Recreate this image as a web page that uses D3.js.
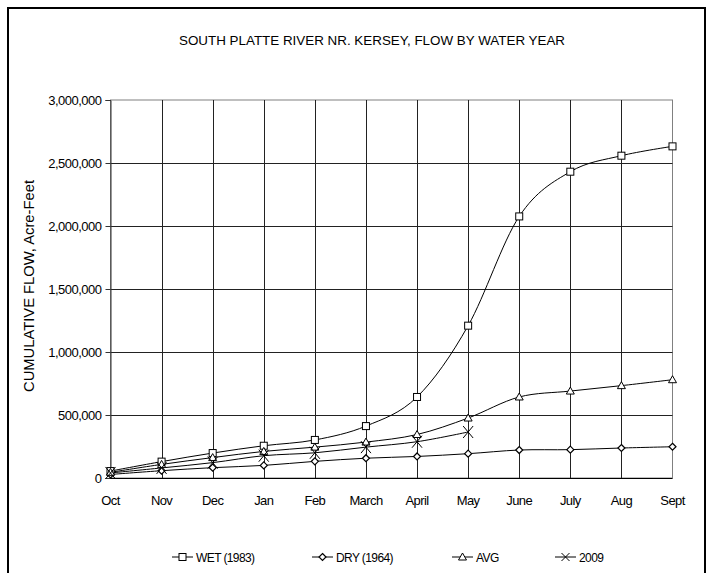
<!DOCTYPE html>
<html>
<head>
<meta charset="utf-8">
<script src="https://cdn.jsdelivr.net/npm/d3@7"></script>
<style>
  html, body { margin: 0; padding: 0; background: #fff; }
  svg { display: block; }
  text { font-family: "Liberation Sans", Arial, sans-serif; fill: #000; }
</style>
</head>
<body>
<svg id="chart" width="709" height="573"></svg>
<script>
// Water-year months (October through September)
const months = ["Oct", "Nov", "Dec", "Jan", "Feb", "March", "April", "May", "June", "July", "Aug", "Sept"];

// Cumulative flow, acre-feet
const wet1983 = [55000, 130000, 198000, 256000, 302000, 412000, 643000, 1209000, 2076000, 2431000, 2558000, 2632000];
const dry1964 = [28000, 58000, 82000, 100000, 132000, 157000, 171000, 193000, 222000, 225000, 238000, 248000];
const avgFlow = [45000, 108000, 162000, 211000, 245000, 285000, 345000, 476000, 643000, 690000, 733000, 780000];
const wy2009  = [40000, 80000, 122000, 177000, 200000, 245000, 288000, 365000];

const yTicks = [0, 500000, 1000000, 1500000, 2000000, 2500000, 3000000];

const series = [
  { name: "WET (1983)", values: wet1983, marker: "square" },
  { name: "DRY (1964)", values: dry1964, marker: "diamond" },
  { name: "AVG",        values: avgFlow, marker: "triangle" },
  { name: "2009",       values: wy2009,  marker: "cross" }
];

const svg = d3.select("#chart");

// Outer chart frame
svg.append("rect")
  .attr("x", 8).attr("y", 8).attr("width", 697).attr("height", 600)
  .attr("fill", "#fff").attr("stroke", "#000").attr("stroke-width", 2);

const plot = { left: 110.5, right: 672.5, top: 100, bottom: 478 };

const x = d3.scalePoint().domain(months).range([plot.left, plot.right]);
const y = d3.scaleLinear().domain([0, 3000000]).range([plot.bottom, plot.top]);

// Title
svg.append("text")
  .attr("x", 372).attr("y", 45)
  .attr("text-anchor", "middle")
  .attr("font-size", 13)
  .attr("textLength", 386).attr("lengthAdjust", "spacingAndGlyphs")
  .text("SOUTH PLATTE RIVER NR. KERSEY, FLOW BY WATER YEAR");

// Plot area border
svg.append("rect")
  .attr("x", plot.left).attr("y", plot.top)
  .attr("width", plot.right - plot.left).attr("height", plot.bottom - plot.top)
  .attr("fill", "none").attr("stroke", "#808080").attr("stroke-width", 1);

// Horizontal gridlines
svg.append("g").selectAll("line")
  .data(yTicks.filter(d => d > 0 && d < 3000000))
  .join("line")
  .attr("x1", plot.left).attr("x2", plot.right)
  .attr("y1", d => Math.round(y(d)) + 0.5).attr("y2", d => Math.round(y(d)) + 0.5)
  .attr("stroke", "#222").attr("stroke-width", 1);

// Vertical gridlines at each month
svg.append("g").selectAll("line")
  .data(months.slice(1, -1))
  .join("line")
  .attr("x1", d => Math.round(x(d)) + 0.5).attr("x2", d => Math.round(x(d)) + 0.5)
  .attr("y1", plot.top).attr("y2", plot.bottom)
  .attr("stroke", "#222").attr("stroke-width", 1);

// Y axis
const yAxis = svg.append("g")
  .attr("transform", `translate(${plot.left},0)`)
  .call(d3.axisLeft(y).tickValues(yTicks).tickFormat(d3.format(",")).tickSize(5).tickPadding(4));
yAxis.select(".domain").attr("stroke", "#333");
yAxis.selectAll(".tick line").attr("stroke", "#333");
yAxis.selectAll("text").attr("font-size", 13).attr("font-family", '"Liberation Sans", Arial, sans-serif')
  .attr("letter-spacing", -0.5);

// X axis line
svg.append("line")
  .attr("x1", plot.left).attr("x2", plot.right)
  .attr("y1", plot.bottom + 0.5).attr("y2", plot.bottom + 0.5)
  .attr("stroke", "#000");

// X labels
svg.append("g").selectAll("text")
  .data(months)
  .join("text")
  .attr("x", d => x(d)).attr("y", 505)
  .attr("text-anchor", "middle")
  .attr("font-size", 13)
  .attr("letter-spacing", -0.6)
  .text(d => d);

// Y axis title
svg.append("text")
  .attr("transform", "translate(34,286) rotate(-90)")
  .attr("text-anchor", "middle")
  .attr("font-size", 14)
  .attr("textLength", 212).attr("lengthAdjust", "spacingAndGlyphs")
  .text("CUMULATIVE FLOW, Acre-Feet");

// Smoothed series lines
const line = d3.line()
  .x((d, i) => x(months[i]))
  .y(d => y(d))
  .curve(d3.curveCardinal.tension(0));

const lineG = svg.append("g");
series.forEach(s => {
  lineG.append("path")
    .datum(s.values)
    .attr("d", line)
    .attr("fill", "none")
    .attr("stroke", "#000")
    .attr("stroke-width", 1);
});

// Marker drawing
function drawMarker(g, type, cx, cy) {
  if (type === "square") {
    g.append("rect").attr("x", cx - 3.5).attr("y", cy - 3.5).attr("width", 7).attr("height", 7)
      .attr("fill", "#fff").attr("stroke", "#000").attr("stroke-width", 1);
  } else if (type === "diamond") {
    g.append("path").attr("d", `M${cx},${cy - 3.5}L${cx + 3.5},${cy}L${cx},${cy + 3.5}L${cx - 3.5},${cy}Z`)
      .attr("fill", "#fff").attr("stroke", "#000").attr("stroke-width", 1.2);
  } else if (type === "triangle") {
    g.append("path").attr("d", `M${cx},${cy - 4}L${cx + 4},${cy + 3}L${cx - 4},${cy + 3}Z`)
      .attr("fill", "#fff").attr("stroke", "#000").attr("stroke-width", 1);
  } else if (type === "cross") {
    g.append("path").attr("d", `M${cx - 5},${cy - 6}L${cx + 5},${cy + 6}M${cx + 5},${cy - 6}L${cx - 5},${cy + 6}`)
      .attr("fill", "none").attr("stroke", "#000").attr("stroke-width", 1);
  }
}

const markerG = svg.append("g");
series.forEach(s => {
  s.values.forEach((v, i) => drawMarker(markerG, s.marker, x(months[i]), y(v)));
});

// Legend
const legendX = [172, 312, 452, 555];
const legendY = 557;
const legend = svg.append("g");
series.forEach((s, i) => {
  const lx = legendX[i];
  legend.append("line")
    .attr("x1", lx).attr("x2", lx + 21)
    .attr("y1", legendY).attr("y2", legendY)
    .attr("stroke", "#000");
  if (s.marker === "cross") {
    legend.append("path")
      .attr("d", `M${lx + 6.5},${legendY - 4}L${lx + 14.5},${legendY + 4}M${lx + 14.5},${legendY - 4}L${lx + 6.5},${legendY + 4}`)
      .attr("stroke", "#000").attr("fill", "none");
  } else {
    drawMarker(legend, s.marker, lx + 10.5, legendY);
  }
  legend.append("text")
    .attr("x", lx + 24).attr("y", legendY + 4.5)
    .attr("font-size", 12)
    .attr("letter-spacing", -0.6)
    .text(s.name);
});
</script>
</body>
</html>
